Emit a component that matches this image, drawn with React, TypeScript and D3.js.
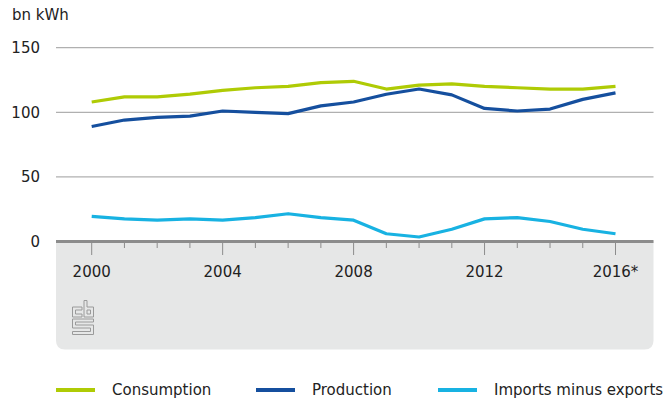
import React from "react";
import * as d3 from "d3";

const years = d3.range(2000, 2017);
const consumption = [108, 112, 112, 114, 117, 119, 120, 123, 124, 118, 121, 122, 120, 119, 118, 118, 120];
const production = [89, 94, 96, 97, 101, 100, 99, 105, 108, 114, 118, 113.5, 103, 101, 102.5, 110, 115];
const imports = [19.5, 17.5, 16.5, 17.5, 16.5, 18.5, 21.5, 18.5, 16.5, 6, 3.5, 9.5, 17.5, 18.5, 15.5, 9.5, 6];
const yTicks = [0, 50, 100, 150];
const xTickLabels = ["2000", "2004", "2008", "2012", "2016*"];
const xLabelYears = [2000, 2004, 2008, 2012, 2016];
const seriesNames = ["Consumption", "Production", "Imports minus exports"];
const seriesColors = ["#afcb05", "#154f9e", "#18b2e2"];

const FONT = "'DejaVu Sans', sans-serif";

export default function App() {
  const x = d3.scaleLinear().domain([2000, 2016]).range([91.7, 615.5]);
  const y = d3.scaleLinear().domain([0, 150]).range([241.5, 47.7]);
  const line = d3
    .line<number>()
    .x((_, i) => x(years[i]))
    .y((d) => y(d));
  const series = [consumption, production, imports];
  const panelL = 56,
    panelR = 653.5,
    panelT = 241,
    panelB = 349.5,
    r = 9;
  const panelPath = `M${panelL},${panelT} H${panelR} V${panelB - r} Q${panelR},${panelB} ${panelR - r},${panelB} H${panelL + r} Q${panelL},${panelB} ${panelL},${panelB - r} Z`;
  const legendX = [56, 256, 438];
  return (
    <svg
      width={669}
      height={399}
      style={{ position: "absolute", left: 0, top: 0, background: "#fff" }}
      fontFamily={FONT}
    >
      <text x={12} y={20} fontSize={15} fill="#222">bn kWh</text>
      {yTicks.map((t) => (
        <g key={t}>
          {t > 0 && (
            <line x1={panelL} x2={panelR} y1={y(t)} y2={y(t)} stroke="#b0b0b0" strokeWidth={1.2} />
          )}
          <text x={40} y={y(t) + 5.5} fontSize={15} textAnchor="end" fill="#222">
            {t}
          </text>
        </g>
      ))}
      <path d={panelPath} fill="#e6e7e7" />
      <line x1={panelL} x2={panelR} y1={241.5} y2={241.5} stroke="#8c8c8c" strokeWidth={3} />
      {years.map((yr) => {
        const major = (yr - 2000) % 4 === 0;
        return (
          <line
            key={yr}
            x1={x(yr)}
            x2={x(yr)}
            y1={243}
            y2={major ? 255 : 248}
            stroke="#8c8c8c"
            strokeWidth={1}
          />
        );
      })}
      {xLabelYears.map((yr, i) => (
        <text key={yr} x={x(yr)} y={277} fontSize={15} textAnchor="middle" fill="#222">
          {xTickLabels[i]}
        </text>
      ))}
      {series.map((s, i) => (
        <path
          key={i}
          d={line(s) || ""}
          fill="none"
          stroke={seriesColors[i]}
          strokeWidth={3.2}
          strokeLinejoin="round"
        />
      ))}
      <g transform="translate(72,300)" fill="none" stroke="#9a9a9a" strokeWidth={1}>
        <path d="M10,7 H0.5 V17 H10 V14 H3.5 V10 H10 Z" />
        <path d="M12,0.5 H15 V7 H21.5 V17 H12 Z" />
        <path d="M15,10 H18.5 V14 H15 Z" />
        <path d="M0.5,19 H21.5 V22 H3.5 V25 H21.5 V34.5 H0.5 V31.5 H18.5 V28 H0.5 Z" />
      </g>
      {seriesNames.map((n, i) => (
        <g key={n}>
          <line x1={legendX[i]} x2={legendX[i] + 39} y1={390} y2={390} stroke={seriesColors[i]} strokeWidth={4} />
          <text x={legendX[i] + 56} y={395} fontSize={15} fill="#222">
            {n}
          </text>
        </g>
      ))}
    </svg>
  );
}
